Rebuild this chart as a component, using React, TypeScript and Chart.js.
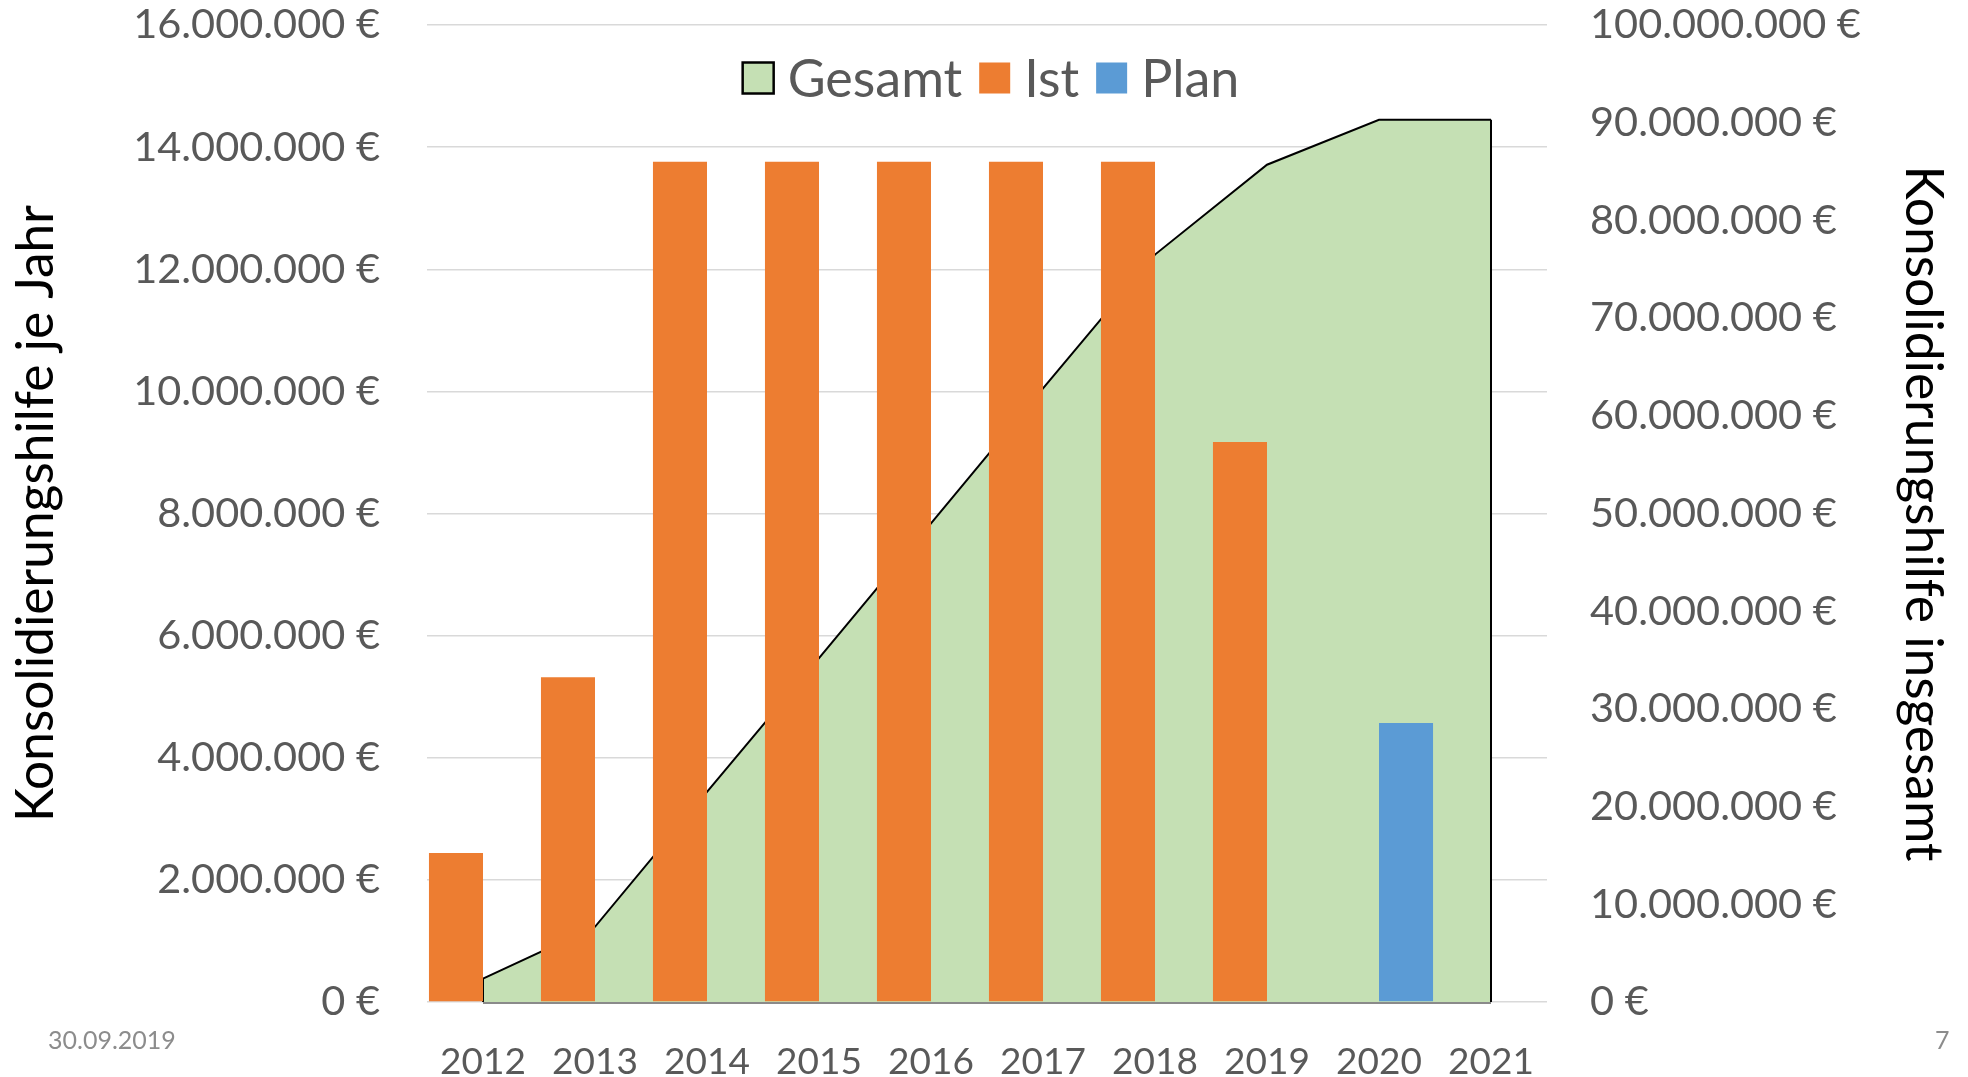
import React, { useEffect, useRef } from 'react';
import { Chart, registerables } from 'chart.js';

Chart.register(...registerables);

const years = ['2012', '2013', '2014', '2015', '2016', '2017', '2018', '2019', '2020', '2021'];
const istValues = [2440000, 5320000, 13760000, 13760000, 13760000, 13760000, 13760000, 9170000, null, null];
const planValues = [null, null, null, null, null, null, null, null, 4570000, null];
const gesamtValues = [2400000, 7700000, 21500000, 35200000, 49000000, 62800000, 76500000, 85700000, 90300000, 90300000];

const leftMax = 16000000;
const leftStep = 2000000;
const rightMax = 100000000;
const rightStep = 10000000;

const FONT = 'Lato';
const TICK_COLOR = '#595959';

const fmt = (v: number) =>
  Math.round(v).toString().replace(/\B(?=(\d{3})+(?!\d))/g, '.') + ' €';

const areaEdges = {
  id: 'areaEdges',
  afterDatasetDraw(chart: any, args: any) {
    const ds = chart.data.datasets[args.index];
    if (ds.label !== 'Gesamt') return;
    const pts = args.meta.data;
    if (!pts.length) return;
    const first = pts[0];
    const last = pts[pts.length - 1];
    const y0 = chart.scales.y2.getPixelForValue(0);
    const ctx = chart.ctx;
    ctx.save();
    ctx.strokeStyle = '#8a8a8a';
    ctx.lineWidth = 2;
    ctx.beginPath();
    ctx.moveTo(first.x, y0 + 1);
    ctx.lineTo(last.x, y0 + 1);
    ctx.stroke();
    ctx.strokeStyle = '#000';
    ctx.lineWidth = 2;
    ctx.beginPath();
    ctx.moveTo(first.x, first.y);
    ctx.lineTo(first.x, y0);
    ctx.moveTo(last.x, last.y);
    ctx.lineTo(last.x, y0);
    ctx.stroke();
    ctx.restore();
  },
};

const customLegend = {
  id: 'customLegend',
  afterDraw(chart: any) {
    const ctx = chart.ctx;
    const area = chart.chartArea;
    const order = ['Gesamt', 'Ist', 'Plan'];
    const items = order.map((name) => {
      const ds = chart.data.datasets.find((d: any) => d.label === name);
      return {
        label: name,
        fill: ds.backgroundColor,
        stroke: ds.type === 'line' ? ds.borderColor : null,
      };
    });
    const box = 31;
    const gap = 14;
    const spacing = 17;
    ctx.save();
    ctx.font = `52px ${FONT}`;
    const widths = items.map((it) => ctx.measureText(it.label).width);
    const total =
      items.reduce((s, _it, i) => s + box + gap + widths[i], 0) + spacing * (items.length - 1);
    let x = (area.left + area.right) / 2 - total / 2 + 4;
    const cy = area.top + 53;
    ctx.textBaseline = 'middle';
    ctx.textAlign = 'left';
    items.forEach((it, i) => {
      ctx.fillStyle = it.fill;
      ctx.fillRect(x, cy - box / 2, box, box);
      if (it.stroke) {
        ctx.strokeStyle = it.stroke;
        ctx.lineWidth = 2.5;
        ctx.strokeRect(x, cy - box / 2, box, box);
      }
      ctx.fillStyle = TICK_COLOR;
      ctx.fillText(it.label, x + box + gap, cy + 2);
      x += box + gap + widths[i] + spacing;
    });
    ctx.restore();
  },
};

export default function App() {
  const canvasRef = useRef<HTMLCanvasElement | null>(null);

  useEffect(() => {
    if (!canvasRef.current) return;
    const chart = new Chart(canvasRef.current, {
      type: 'bar',
      data: {
        labels: years,
        datasets: [
          {
            type: 'bar',
            label: 'Ist',
            data: istValues,
            backgroundColor: '#ED7D31',
            yAxisID: 'y',
            order: 1,
            barPercentage: 1,
            categoryPercentage: 0.965,
          },
          {
            type: 'line',
            label: 'Gesamt',
            data: gesamtValues,
            backgroundColor: '#C5E0B4',
            borderColor: '#000000',
            borderWidth: 2,
            pointRadius: 0,
            tension: 0,
            fill: 'origin',
            yAxisID: 'y2',
            order: 2,
          },
          {
            type: 'bar',
            label: 'Plan',
            data: planValues,
            backgroundColor: '#5B9BD5',
            yAxisID: 'y',
            order: 1,
            barPercentage: 1,
            categoryPercentage: 0.965,
          },
        ] as any,
      },
      options: {
        animation: false,
        responsive: true,
        maintainAspectRatio: false,
        layout: { padding: { top: 25, left: 0, right: 0, bottom: 0 } },
        plugins: {
          legend: { display: false },
          tooltip: { enabled: false },
        },
        scales: {
          x: {
            type: 'category',
            offset: true,
            grid: { display: false },
            border: { display: false },
            ticks: {
              color: TICK_COLOR,
              font: { family: FONT, size: 37 },
              padding: 30,
              maxRotation: 0,
            },
            afterFit: (scale: any) => {
              scale.height = 75;
              scale.paddingLeft = 0;
              scale.paddingRight = 0;
            },
          },
          y: {
            type: 'linear',
            position: 'left',
            min: 0,
            max: leftMax,
            grid: { color: '#d9d9d9', lineWidth: 1.5, drawTicks: false },
            border: { display: false },
            ticks: {
              stepSize: leftStep,
              color: TICK_COLOR,
              font: { family: FONT, size: 41.5 },
              padding: 47,
              callback: (v: any) => fmt(Number(v)),
            },
            title: {
              display: true,
              text: 'Konsolidierungshilfe je Jahr',
              color: '#000000',
              font: { family: FONT, size: 51.5 },
              padding: { top: 5, bottom: 0 },
            },
            afterFit: (scale: any) => {
              scale.width = 427;
              scale.paddingTop = 0;
              scale.paddingBottom = 0;
            },
          },
          y2: {
            type: 'linear',
            position: 'right',
            min: 0,
            max: rightMax,
            grid: { display: false },
            border: { display: false },
            ticks: {
              stepSize: rightStep,
              color: TICK_COLOR,
              font: { family: FONT, size: 41.5 },
              padding: 35,
              callback: (v: any) => fmt(Number(v)),
            },
            title: {
              display: true,
              text: 'Konsolidierungshilfe insgesamt',
              color: '#000000',
              font: { family: FONT, size: 51.5 },
              padding: { top: 14, bottom: 0 },
            },
            afterFit: (scale: any) => {
              scale.width = 421;
              scale.paddingTop = 0;
              scale.paddingBottom = 0;
            },
          },
        },
      } as any,
      plugins: [areaEdges, customLegend],
    });
    return () => chart.destroy();
  }, []);

  return (
    <div style={{ position: 'absolute', left: 0, top: 0, width: 1968, height: 1077, background: '#fff', overflow: 'hidden' }}>
      <canvas ref={canvasRef} />
      <div
        style={{
          position: 'absolute',
          left: 48,
          top: 1024,
          fontFamily: FONT,
          fontSize: 25,
          color: '#8c8c8c',
          lineHeight: '30px',
        }}
      >
        30.09.2019
      </div>
      <div
        style={{
          position: 'absolute',
          left: 1935,
          top: 1024,
          fontFamily: FONT,
          fontSize: 25,
          color: '#8c8c8c',
          lineHeight: '30px',
        }}
      >
        7
      </div>
    </div>
  );
}
